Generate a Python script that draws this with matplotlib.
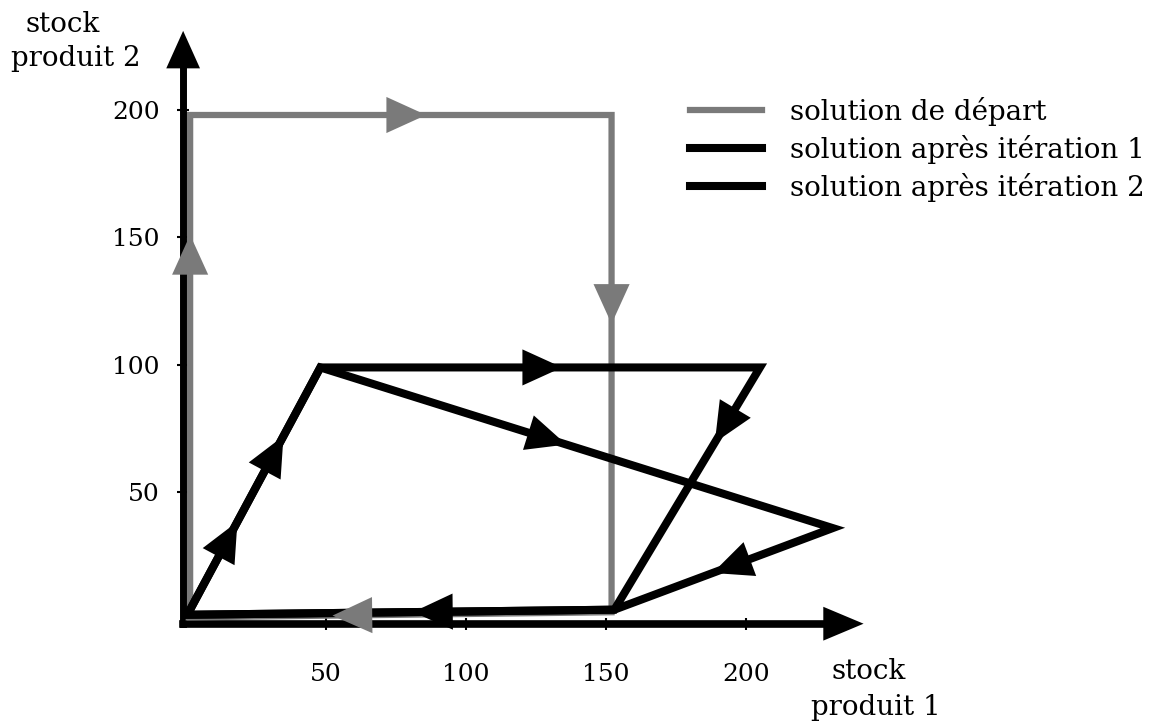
import matplotlib.pyplot as plt

plt.rcParams['font.family'] = 'DejaVu Serif'

# Paths (stock produit 1, stock produit 2)
depart_x = [1.5, 1.5, 152, 152, 1]
depart_y = [2, 198, 198, 3, 1]
iter1_x = [1, 48, 205, 153, 0]
iter1_y = [3, 99, 99, 4, 2]
iter2_x = [1, 48, 231, 153, 0]
iter2_y = [3, 99, 36, 4, 2]

# direction arrows: (segment index, fraction along segment)
depart_arrows = [(0, 0.76), (1, 0.56), (2, 0.42), (3, 0.66)]
iter1_arrows = [(0, 0.72), (1, 0.55), (2, 0.31), (3, 0.47)]
iter2_arrows = [(0, 0.37), (1, 0.48), (2, 0.55)]

ticks = [50, 100, 150, 200]
labels = ['solution de départ', 'solution après itération 1', 'solution après itération 2']

GRAY = '#7a7a7a'

fig = plt.figure(figsize=(11.73, 7.28), dpi=100)
ax = fig.add_axes([0, 0, 1, 1])
ax.set_xlim(-66.4, 352.5)
ax.set_ylim(-42.4, 243.1)


def draw_arrows(xs, ys, arrows, color):
    for i, t in arrows:
        x0, y0, x1, y1 = xs[i], ys[i], xs[i + 1], ys[i + 1]
        tip = (x0 + t * (x1 - x0), y0 + t * (y1 - y0))
        ax.annotate('', xy=tip, xytext=(x0, y0),
                    arrowprops=dict(arrowstyle='-|>,head_length=1.1,head_width=0.5',
                                    color=color, lw=0, shrinkA=0, shrinkB=0,
                                    mutation_scale=26), zorder=5)


ax.plot(depart_x, depart_y, color=GRAY, lw=4.5, solid_joinstyle='miter', label=labels[0], zorder=3)
ax.plot(iter1_x, iter1_y, color='black', lw=5.8, solid_joinstyle='miter', label=labels[1], zorder=4)
ax.plot(iter2_x, iter2_y, color='black', lw=5.8, solid_joinstyle='miter', label=labels[2], zorder=4)

draw_arrows(depart_x, depart_y, depart_arrows, GRAY)
draw_arrows(iter1_x, iter1_y, iter1_arrows, 'black')
draw_arrows(iter2_x, iter2_y, iter2_arrows, 'black')

# axes with arrow heads
for side in ['top', 'right']:
    ax.spines[side].set_visible(False)
ax.spines['left'].set_position(('data', -1))
ax.spines['bottom'].set_position(('data', -1.5))
ax.spines['left'].set_bounds(-1.5, 216)
ax.spines['bottom'].set_bounds(-1, 228)
ax.spines['left'].set_linewidth(5)
ax.spines['bottom'].set_linewidth(5.5)
ax.annotate('', xy=(-1, 231), xytext=(-1, 214),
            arrowprops=dict(arrowstyle='-|>,head_length=1,head_width=0.45',
                            color='black', lw=0, shrinkA=0, shrinkB=0, mutation_scale=27))
ax.annotate('', xy=(242, -1.5), xytext=(226, -1.5),
            arrowprops=dict(arrowstyle='-|>,head_length=1,head_width=0.42',
                            color='black', lw=0, shrinkA=0, shrinkB=0, mutation_scale=29))

ax.set_xticks(ticks)
ax.set_yticks(ticks)
ax.tick_params(axis='both', labelsize=18, direction='inout', length=8, width=1.5)
ax.tick_params(axis='x', pad=24)
ax.tick_params(axis='y', pad=13)

ax.text(-43.9, 233.3, 'stock', fontsize=20, ha='center', va='center')
ax.text(-39.3, 220.0, 'produit 2', fontsize=20, ha='center', va='center')
ax.text(243.9, -20.4, 'stock', fontsize=20, ha='center', va='center')
ax.text(246.4, -34.3, 'produit 1', fontsize=20, ha='center', va='center')

ax.legend(loc='upper left', bbox_to_anchor=(690 / 1173, 1 - 97 / 728), frameon=False,
          fontsize=20, borderpad=0, borderaxespad=0, handlelength=2.6,
          handletextpad=1.0, labelspacing=0.32)

fig.savefig('out.png', dpi=100)
